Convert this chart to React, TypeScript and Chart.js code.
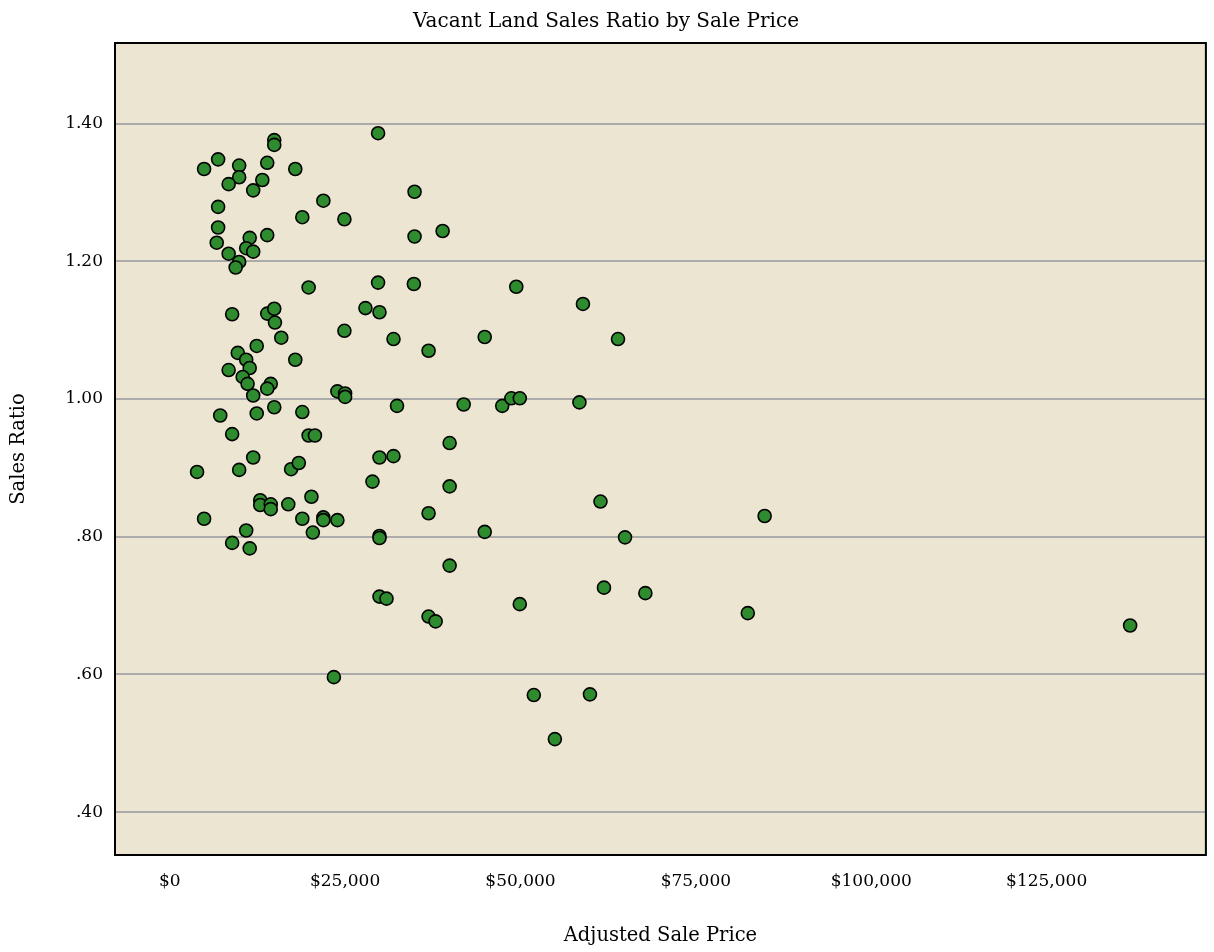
import React, { useEffect, useRef } from "react";
import { Chart, registerables } from "chart.js";

Chart.register(...registerables);

const TITLE = "Vacant Land Sales Ratio by Sale Price";
const X_TITLE = "Adjusted Sale Price";
const Y_TITLE = "Sales Ratio";

const X_TICKS = [0, 25000, 50000, 75000, 100000, 125000];
const Y_TICKS = [0.4, 0.6, 0.8, 1.0, 1.2, 1.4];

const SALE_PRICE = [
  29700, 14900, 14900, 6900, 4900, 9900, 13900, 17900, 9900, 8400,
  13200, 11900, 6900, 21900, 18900, 24900, 6900, 6700, 11400, 13900,
  8400, 10900, 11900, 9900, 9400, 19800, 29700, 34900, 34900, 38900,
  34800, 49400, 27900, 29900, 58900, 24900, 31900, 44900, 63900, 36900,
  8900, 13900, 14900, 15000, 12400, 15900, 9700, 10900, 11400, 8400,
  10400, 11100, 14400, 13900, 17900, 11900, 23900, 25000, 25000, 7200,
  12400, 14900, 18900, 8900, 19800, 20700, 32400, 41900, 47400, 48700,
  49900, 58400, 39900, 11900, 3900, 9900, 17300, 18400, 29900, 31900,
  28900, 39900, 20200, 12900, 12900, 14400, 14400, 16900, 36900, 61400,
  4900, 18900, 21900, 21900, 23900, 20400, 10900, 8900, 11400, 29900,
  29900, 44900, 64900, 84800, 39900, 61900, 67800, 29900, 30900, 49900,
  36900, 37900, 82400, 136900, 23400, 51900, 59900, 54900,
];

const SALES_RATIO = [
  1.386, 1.376, 1.369, 1.348, 1.334, 1.339, 1.343, 1.334, 1.322, 1.312,
  1.318, 1.303, 1.279, 1.288, 1.264, 1.261, 1.249, 1.227, 1.234, 1.238,
  1.211, 1.219, 1.214, 1.199, 1.191, 1.162, 1.169, 1.301, 1.236, 1.244,
  1.167, 1.163, 1.132, 1.126, 1.138, 1.099, 1.087, 1.090, 1.087, 1.070,
  1.123, 1.124, 1.131, 1.111, 1.077, 1.089, 1.067, 1.057, 1.045, 1.042,
  1.032, 1.022, 1.022, 1.015, 1.057, 1.005, 1.011, 1.008, 1.003, 0.976,
  0.979, 0.988, 0.981, 0.949, 0.947, 0.947, 0.990, 0.992, 0.990, 1.001,
  1.001, 0.995, 0.936, 0.915, 0.894, 0.897, 0.898, 0.907, 0.915, 0.917,
  0.880, 0.873, 0.858, 0.853, 0.846, 0.847, 0.840, 0.847, 0.834, 0.851,
  0.826, 0.826, 0.828, 0.824, 0.824, 0.806, 0.809, 0.791, 0.783, 0.801,
  0.798, 0.807, 0.799, 0.830, 0.758, 0.726, 0.718, 0.713, 0.710, 0.702,
  0.684, 0.677, 0.689, 0.671, 0.596, 0.570, 0.571, 0.506,
];

const FONT = "'DejaVu Serif', serif";

const framePlugin = {
  id: "frame",
  beforeDraw(chart: any) {
    const { ctx, chartArea } = chart;
    const { left, top, right, bottom } = chartArea;
    ctx.save();
    ctx.fillStyle = "#EBE5D1";
    ctx.fillRect(left, top, right - left, bottom - top);
    ctx.restore();
  },
  afterDraw(chart: any) {
    const { ctx, chartArea } = chart;
    const { left, top, right, bottom } = chartArea;
    ctx.save();
    ctx.strokeStyle = "#000000";
    ctx.lineWidth = 2;
    ctx.strokeRect(left, top, right - left, bottom - top);
    ctx.restore();
  },
};

export default function App() {
  const ref = useRef<HTMLCanvasElement | null>(null);

  useEffect(() => {
    if (!ref.current) return;
    const points = SALE_PRICE.map((x, i) => ({ x, y: SALES_RATIO[i] }));
    const chart = new Chart(ref.current, {
      type: "scatter",
      data: {
        datasets: [
          {
            data: points,
            backgroundColor: "#2E8B2E",
            borderColor: "#000000",
            borderWidth: 1.6,
            pointRadius: 6.5,
            pointHoverRadius: 6.5,
          },
        ],
      },
      options: {
        responsive: false,
        animation: false,
        layout: { padding: { left: 0, right: 2, top: 0, bottom: 0 } },
        plugins: {
          legend: { display: false },
          tooltip: { enabled: false },
          title: {
            display: true,
            text: TITLE,
            color: "#000000",
            font: { family: FONT, size: 20, weight: "normal", lineHeight: 1.2 },
            padding: { top: 10, bottom: 9 },
          },
        },
        scales: {
          x: {
            type: "linear",
            min: -7800,
            max: 147700,
            afterBuildTicks: (scale: any) => {
              scale.ticks = X_TICKS.map((v) => ({ value: v }));
            },
            afterFit: (scale: any) => {
              scale.height = 97;
            },
            grid: { display: false, drawTicks: false },
            border: { display: false },
            ticks: {
              color: "#000000",
              padding: 16,
              maxRotation: 0,
              autoSkip: false,
              font: { family: FONT, size: 17 },
              callback: (v: any) => "$" + Number(v).toLocaleString("en-US"),
            },
            title: {
              display: true,
              text: X_TITLE,
              color: "#000000",
              font: { family: FONT, size: 19.5, lineHeight: 1.2 },
              padding: { top: 0, bottom: 4 },
            },
          },
          y: {
            type: "linear",
            min: 0.3377,
            max: 1.517,
            afterBuildTicks: (scale: any) => {
              scale.ticks = Y_TICKS.map((v) => ({ value: v }));
            },
            afterFit: (scale: any) => {
              scale.width = 115;
            },
            grid: {
              display: true,
              drawTicks: false,
              color: "#ABABAB",
              lineWidth: 2,
            },
            border: { display: false },
            ticks: {
              color: "#000000",
              padding: 12,
              autoSkip: false,
              font: { family: FONT, size: 17 },
              callback: (v: any) => Number(v).toFixed(2).replace(/^0/, ""),
            },
            title: {
              display: true,
              text: Y_TITLE,
              color: "#000000",
              font: { family: FONT, size: 19.5, lineHeight: 1.2 },
              padding: { top: 7, bottom: 0 },
            },
          },
        },
      },
      plugins: [framePlugin],
    });
    return () => chart.destroy();
  }, []);

  return (
    <div style={{ position: "absolute", left: 0, top: 0, width: 1214, height: 952 }}>
      <canvas ref={ref} width={1214} height={952} style={{ display: "block" }} />
    </div>
  );
}
